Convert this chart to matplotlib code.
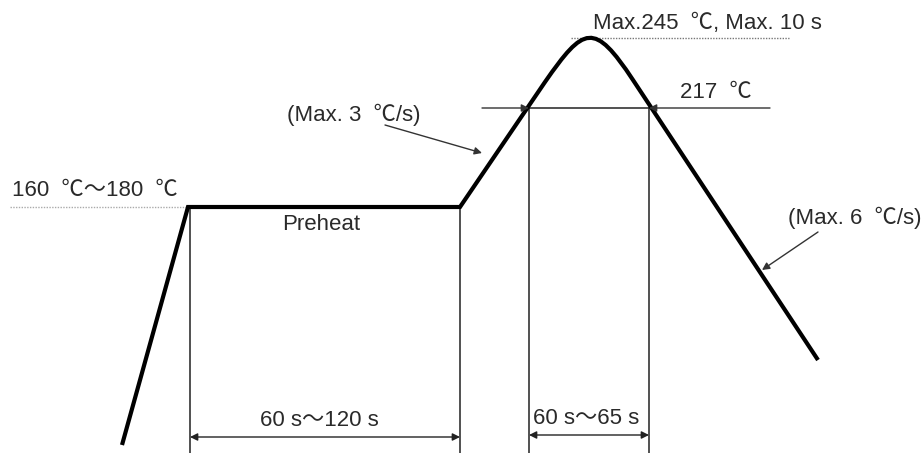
"""回流焊温度曲线示意图"""
import matplotlib
matplotlib.use('Agg')
import matplotlib.pyplot as plt
from matplotlib.path import Path
from matplotlib.patches import PathPatch

plt.rcParams['font.family'] = ['Liberation Sans', 'Noto Sans CJK SC', 'DejaVu Sans']

# 曲线关键点 (图面坐标, y 向下)
ramp_x = [122, 188, 460, 545]
ramp_y = [445, 207, 207, 82]
peak_ctrl_x = [545, 584, 594, 633]
peak_ctrl_y = [82, 26, 21, 80]
cool_x = [633, 818]
cool_y = [80, 360]

# 标注位置
preheat_start, preheat_end = 190, 460
reflow_start, reflow_end = 529, 649
liquidus_y = 108
soak_y = 207
peak_y = 38

labels = {
    'soak': '160  \u2103\uff5e180  \u2103',
    'peak': 'Max.245  \u2103, Max. 10 s',
    'liquidus': '217  \u2103',
    'heat_rate': '(Max. 3  \u2103/s)',
    'cool_rate': '(Max. 6  \u2103/s)',
    'preheat': 'Preheat',
    'preheat_time': '60 s\uff5e120 s',
    'reflow_time': '60 s\uff5e65 s',
}

fig = plt.figure(figsize=(9.24, 4.53), dpi=100)
ax = fig.add_axes([0, 0, 1, 1])
ax.set_xlim(0, 924)
ax.set_ylim(453, 0)
ax.axis('off')

TXT = '#2a2a2a'
FS = 16
thin = dict(color='#222222', lw=1.1)

# 主曲线
verts = list(zip(ramp_x, ramp_y)) + list(zip(peak_ctrl_x[1:], peak_ctrl_y[1:])) + list(zip(cool_x[1:], cool_y[1:]))
codes = [Path.MOVETO] + [Path.LINETO] * (len(ramp_x) - 1) + [Path.CURVE4] * 3 + [Path.LINETO]
ax.add_patch(PathPatch(Path(verts, codes), fill=False, lw=3.0, ec='black',
                       capstyle='butt', joinstyle='miter', zorder=3))

# 竖线
for x, y0 in [(preheat_start, soak_y), (preheat_end, soak_y),
              (reflow_start, liquidus_y), (reflow_end, liquidus_y)]:
    ax.plot([x, x], [y0, 453], **thin)

# 虚线
ax.plot([10, 188], [soak_y, soak_y], color='#aaaaaa', lw=1.0, ls=(0, (1, 1)))
ax.plot([571, 789], [peak_y, peak_y], color='#777777', lw=1.0, ls=(0, (1, 1)))

# 217 线
ax.plot([reflow_start, reflow_end], [liquidus_y, liquidus_y], **thin)
arr = dict(arrowstyle='-|>', color='#333333', lw=1.0, mutation_scale=11, shrinkA=0, shrinkB=0)
ax.annotate('', xy=(reflow_start, liquidus_y), xytext=(482, liquidus_y), arrowprops=arr)
ax.annotate('', xy=(reflow_end, liquidus_y), xytext=(770, liquidus_y), arrowprops=arr)

# 斜率箭头
ax.annotate('', xy=(482, 153), xytext=(385, 125), arrowprops=arr)
ax.annotate('', xy=(762, 270), xytext=(818, 232), arrowprops=arr)

# 时间区间双箭头
darr = dict(arrowstyle='<|-|>', color='#222222', lw=1.0, mutation_scale=11, shrinkA=0, shrinkB=0)
ax.annotate('', xy=(preheat_start, 437), xytext=(preheat_end, 437), arrowprops=darr)
ax.annotate('', xy=(reflow_start, 435), xytext=(reflow_end, 435), arrowprops=darr)

# 文字
ax.text(12, 190, labels['soak'], fontsize=FS, color=TXT, va='center', ha='left')
ax.text(593, 24, labels['peak'], fontsize=FS, color=TXT, va='center', ha='left')
ax.text(680, 92, labels['liquidus'], fontsize=FS, color=TXT, va='center', ha='left')
ax.text(287, 115, labels['heat_rate'], fontsize=FS, color=TXT, va='center', ha='left')
ax.text(788, 218, labels['cool_rate'], fontsize=FS, color=TXT, va='center', ha='left')
ax.text(282, 224, labels['preheat'], fontsize=FS, color=TXT, va='center', ha='left')
ax.text(260, 421, labels['preheat_time'], fontsize=FS, color=TXT, va='center', ha='left')
ax.text(533, 418, labels['reflow_time'], fontsize=FS, color=TXT, va='center', ha='left')

fig.savefig('out.png', dpi=100, facecolor='white')
